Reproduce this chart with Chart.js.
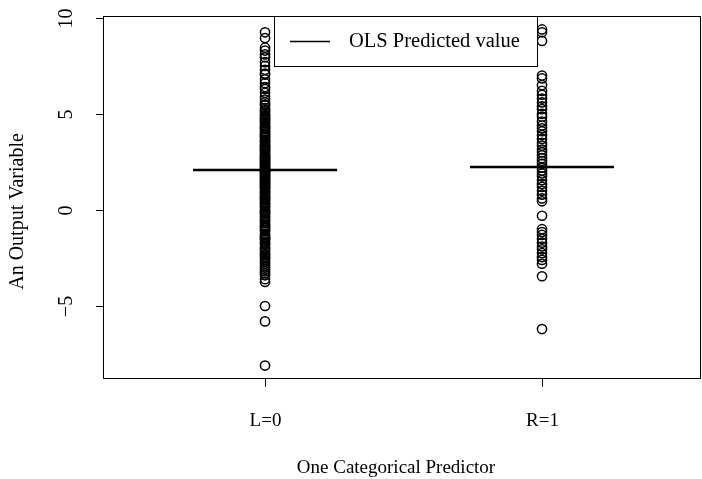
<!DOCTYPE html>
<html>
<head>
<meta charset="utf-8">
<title>OLS with one categorical predictor</title>
<script src="https://cdn.jsdelivr.net/npm/chart.js@4/dist/chart.umd.min.js"></script>
<style>
  html, body { margin: 0; padding: 0; background: #ffffff; }
  canvas { display: block; }
</style>
</head>
<body>
<canvas id="chart" width="702" height="479"></canvas>
<script>
// Group codes and their tick labels
const groupCodes = [0, 1];
const groupLabels = ['L=0', 'R=1'];

// Observed outcome for the L=0 group
const yLeft = [
  9.25, 8.95, 8.45, 8.3, 8.1, 7.95, 7.7, 7.5, 7.3, 7.1, 7.05, 6.8, 6.6, 6.4,
  6.3, 6.1, 5.9, 5.75, 5.6, 5.45, 5.3, 5.2, 5.05, 4.9, 4.8, 4.7, 4.55, 4.4,
  4.3, 4.2, 4.1, 3.95, 3.85, 3.75, 3.6, 3.5, 3.4, 3.3, 3.2, 3.15, 3.05, 2.95,
  2.9, 2.8, 2.7, 2.65, 2.55, 2.5, 2.4, 2.35, 2.25, 2.2, 2.15, 2.05, 2.0, 1.95,
  1.85, 1.8, 1.75, 1.65, 1.6, 1.5, 1.45, 1.4, 1.3, 1.2, 1.1, 1.0, 0.95, 0.85,
  0.7, 0.6, 0.5, 0.4, 0.3, 0.15, 0.05, -0.05, -0.2, -0.3, -0.45, -0.55, -0.7,
  -0.8, -0.95, -1.1, -1.25, -1.4, -1.5, -1.65, -1.8, -1.95, -2.1, -2.3, -2.45,
  -2.6, -2.8, -3.0, -3.2, -3.4, -3.6, -3.75, -5.0, -5.8, -8.1,
  4.65, 4.35, 4.05, 3.8, 3.55, 3.25, 3.1, 2.85, 2.6, 2.45, 2.3, 2.1, 1.9,
  1.7, 1.55, 1.35, 1.15, 0.9, 0.75, 0.55, 0.35, 0.2, -0.1, -0.35, -0.6,
  -0.85, -1.05, -1.3, -1.55, -1.75, -2.0, -2.2, -2.5, -2.7, -2.9, -3.1,
  5.5, 5.15, 4.95, 4.75, 4.5, 4.25, 3.9, 3.65, 3.35, 2.75, 2.0, 1.25, 0.65,
  -0.15, -0.9, -1.45, -2.35, -3.3
];

// Observed outcome for the R=1 group
const yRight = [
  9.4, 9.25, 8.8, 7.0, 6.85, 6.5, 6.2, 6.0, 5.8, 5.6, 5.4, 5.25, 5.0, 4.85,
  4.6, 4.4, 4.25, 4.1, 3.9, 3.7, 3.5, 3.35, 3.15, 3.0, 2.85, 2.7, 2.55, 2.4,
  2.2, 2.05, 1.9, 1.75, 1.55, 1.35, 1.2, 1.0, 0.8, 0.6, 0.45, -0.3, -1.0,
  -1.15, -1.3, -1.5, -1.7, -1.9, -2.05, -2.25, -2.45, -2.6, -2.8, -3.45, -6.2
];

// Fitted (predicted) value for each group
const olsFit = [2.08, 2.24];

// Y axis tick values
const yTicks = [-5, 0, 5, 10];

const FONT = '"Liberation Serif", "DejaVu Serif", serif';
const SEG_HALF = 0.26;

const toPoints = (code, ys) => ys.map(v => ({ x: code, y: v }));

const pointStyleOpts = {
  type: 'scatter',
  showLine: false,
  pointStyle: 'circle',
  pointRadius: 4.6,
  pointHoverRadius: 4.6,
  pointBorderWidth: 1.5,
  borderColor: '#000000',
  backgroundColor: 'rgba(0,0,0,0)',
  pointBackgroundColor: 'rgba(0,0,0,0)',
  pointBorderColor: '#000000'
};

const fitSegments = groupCodes.map((code, i) => ({
  type: 'line',
  label: 'OLS Predicted value',
  data: [{ x: code - SEG_HALF, y: olsFit[i] }, { x: code + SEG_HALF, y: olsFit[i] }],
  borderColor: '#000000',
  borderWidth: 2.5,
  pointRadius: 0,
  fill: false,
  tension: 0
}));

// Draws the frame, axes, labels and legend in base-graphics style
const basePlotFrame = {
  id: 'basePlotFrame',
  afterDraw(chart) {
    const ctx = chart.ctx;
    const a = chart.chartArea;
    const xs = chart.scales.x;
    const ys = chart.scales.y;
    ctx.save();
    ctx.strokeStyle = '#000000';
    ctx.fillStyle = '#000000';
    ctx.lineWidth = 1;

    // frame
    ctx.strokeRect(a.left + 0.5, a.top + 0.5, a.right - a.left - 1, a.bottom - a.top - 1);

    // y ticks and rotated labels
    ctx.font = '20px ' + FONT;
    yTicks.forEach(v => {
      const py = Math.round(ys.getPixelForValue(v)) + 0.5;
      ctx.beginPath();
      ctx.moveTo(a.left - 7, py);
      ctx.lineTo(a.left, py);
      ctx.stroke();
      ctx.save();
      ctx.translate(a.left - 36, py);
      ctx.rotate(-Math.PI / 2);
      ctx.textAlign = 'center';
      ctx.textBaseline = 'middle';
      ctx.fillText(String(v).replace('-', '\u2212'), 0, 0);
      ctx.restore();
    });

    // x ticks and labels
    ctx.font = '19px ' + FONT;
    groupCodes.forEach((code, i) => {
      const px = Math.round(xs.getPixelForValue(code)) + 0.5;
      ctx.beginPath();
      ctx.moveTo(px, a.bottom);
      ctx.lineTo(px, a.bottom + 8);
      ctx.stroke();
      ctx.textAlign = 'center';
      ctx.textBaseline = 'middle';
      ctx.fillText(groupLabels[i], px, a.bottom + 42);
    });

    // axis titles
    ctx.textAlign = 'center';
    ctx.textBaseline = 'middle';
    ctx.fillText('One Categorical Predictor', 396, a.bottom + 89);
    ctx.save();
    ctx.font = '20px ' + FONT;
    ctx.translate(18, (a.top + a.bottom) / 2 + 14);
    ctx.rotate(-Math.PI / 2);
    ctx.fillText('An Output Variable', 0, 0);
    ctx.restore();

    // legend
    const lx = 274.5, ly = a.top + 0.5, lw = 263, lh = 50;
    ctx.fillStyle = '#ffffff';
    ctx.fillRect(lx, ly, lw, lh);
    ctx.strokeStyle = '#000000';
    ctx.lineWidth = 1;
    ctx.strokeRect(lx, ly, lw, lh);
    ctx.lineWidth = 1.3;
    ctx.beginPath();
    ctx.moveTo(290, ly + 25);
    ctx.lineTo(330, ly + 25);
    ctx.stroke();
    ctx.fillStyle = '#000000';
    ctx.font = '20.5px ' + FONT;
    ctx.textAlign = 'left';
    ctx.fillText('OLS Predicted value', 349, ly + 25);

    ctx.restore();
  }
};

new Chart(document.getElementById('chart'), {
  type: 'scatter',
  data: {
    datasets: [
      Object.assign({ label: 'L=0', data: toPoints(groupCodes[0], yLeft) }, pointStyleOpts),
      Object.assign({ label: 'R=1', data: toPoints(groupCodes[1], yRight) }, pointStyleOpts),
      ...fitSegments
    ]
  },
  options: {
    responsive: false,
    animation: false,
    devicePixelRatio: 1,
    layout: { autoPadding: false, padding: { left: 103, right: 1, top: 16, bottom: 100 } },
    plugins: {
      legend: { display: false },
      tooltip: { enabled: false }
    },
    scales: {
      x: { type: 'linear', min: -0.585, max: 1.574, display: false },
      y: { type: 'linear', min: -8.8, max: 10.1, display: false }
    }
  },
  plugins: [basePlotFrame]
});
</script>
</body>
</html>
